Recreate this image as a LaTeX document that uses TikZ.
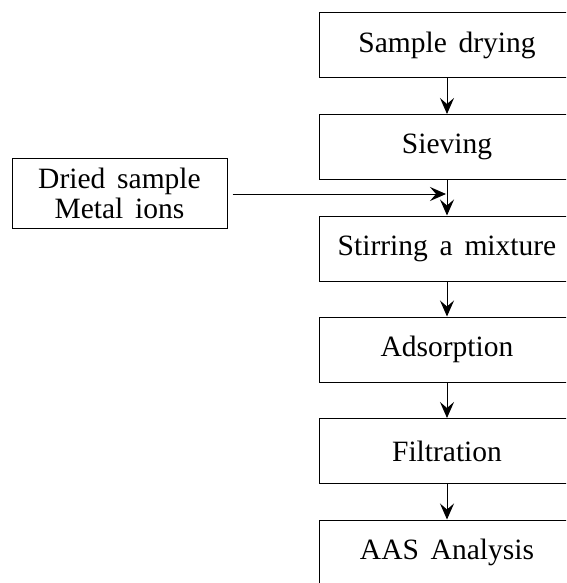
\documentclass[tikz,border=0pt]{standalone}
\usepackage{fontspec}
\setmainfont{Liberation Serif}
\usetikzlibrary{arrows.meta}
\newcommand\mybxfont{\fontsize{29.5}{30}\selectfont\spaceskip 0.4em plus 0.1em\relax}
\begin{document}
\begin{tikzpicture}[x=1pt,y=-1pt,
  stepbox/.style={draw,line width=1pt,minimum width=256pt,minimum height=65pt,inner sep=0pt,
    font=\mybxfont},
  sidebox/.style={draw,line width=1pt,minimum width=215pt,minimum height=70pt,inner sep=0pt,align=center,
    font=\mybxfont},
  flow/.style={line width=1pt,-{Stealth[length=16pt,width=14pt,inset=6pt]}}]
\useasboundingbox (0,0) rectangle (566,583);
\clip (0,0) rectangle (566,583);
\node[stepbox] (dry) at (447,45.5) {Sample drying};
\node[stepbox] (sieve) at (447,147) {Sieving};
\node[stepbox] (stir) at (447,248.5) {Stirring a mixture};
\node[stepbox] (ads) at (447,349.5) {Adsorption};
\node[stepbox] (filt) at (447,451) {Filtration};
\node[stepbox] (aas) at (447,552.5) {AAS Analysis};
\node[sidebox] (side) at (119.5,193) {Dried sample\\Metal ions};
\coordinate (join) at (446,194);
\draw[flow] (side.east |- join) ++(5,0) -- (join);
\draw[flow] (dry) -- (sieve);
\draw[flow] (sieve) -- (stir);
\draw[flow] (stir) -- (ads);
\draw[flow] (ads) -- (filt);
\draw[flow] (filt) -- (aas);
\end{tikzpicture}
\end{document}
